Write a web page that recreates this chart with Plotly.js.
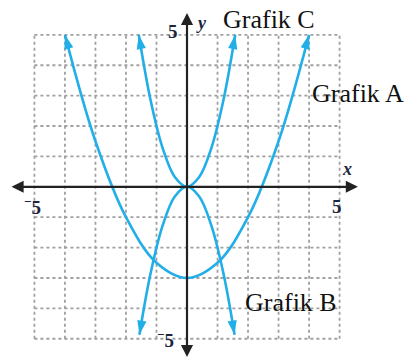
<!DOCTYPE html>
<html><head><meta charset="utf-8">
<script src="https://cdn.plot.ly/plotly-3.0.1.min.js"></script>
<style>html,body{margin:0;padding:0;background:#fff;}#c{width:406px;height:360px;}</style>
</head><body><div id="c"></div>
<script>
// Values
var gridTicks = [-5,-4,-3,-2,-1,0,1,2,3,4,5];
var grafikA_x = [-4,-3,-2,-1,0,1,2,3,4];
var grafikA_y = [5,1.5,-1,-2.5,-3,-2.5,-1,1.5,5];
var grafikB_x = [-1.56,-1.2,-0.8,-0.4,0,0.4,0.8,1.2,1.56];
var grafikB_y = [-4.87,-2.88,-1.28,-0.32,0,-0.32,-1.28,-2.88,-4.87];
var grafikC_x = [-1.58,-1.2,-0.8,-0.4,0,0.4,0.8,1.2,1.58];
var grafikC_y = [5,2.88,1.28,0.32,0,0.32,1.28,2.88,5];
var curveNames = ['Grafik A','Grafik B','Grafik C'];

var blue = '#22aee6';
var ink = '#1b2540';
var curves = [[grafikA_x,grafikA_y],[grafikB_x,grafikB_y],[grafikC_x,grafikC_y]];
var traces = [];
curves.forEach(function(c,i){
  var xs=c[0], ys=c[1], n=xs.length;
  traces.push({x:xs,y:ys,mode:'lines',type:'scatter',name:curveNames[i],
    line:{color:blue,width:2.6,shape:'spline'},hoverinfo:'skip'});
  function ang(a,b){return Math.atan2(xs[a]-xs[b], ys[a]-ys[b])*180/Math.PI;}
  traces.push({x:[xs[0],xs[n-1]],y:[ys[0],ys[n-1]],mode:'markers',type:'scatter',
    marker:{symbol:'arrow',size:15,color:blue,angle:[ang(0,1),ang(n-1,n-2)],line:{width:0}},
    hoverinfo:'skip'});
});

var shapes = [];
gridTicks.forEach(function(t){
  shapes.push({type:'line',xref:'x',yref:'y',x0:t,x1:t,y0:gridTicks[0],y1:gridTicks[gridTicks.length-1],
    line:{color:'#a0a0a0',width:1.8,dash:'dot'},layer:'below'});
  shapes.push({type:'line',xref:'x',yref:'y',y0:t,y1:t,x0:gridTicks[0],x1:gridTicks[gridTicks.length-1],
    line:{color:'#a0a0a0',width:1.8,dash:'dot'},layer:'below'});
});

var numFont = {family:'Liberation Serif',size:19,color:ink};
var varFont = {family:'Liberation Serif',size:18,color:ink};
var lblFont = {family:'Liberation Serif',size:26,color:'#111'};
var annotations = [
  // axes with arrows
  {xref:'x',yref:'y',axref:'x',ayref:'y',x:5.6,y:0,ax:-5.8,ay:0,text:'',showarrow:true,
   arrowhead:2,startarrowhead:2,arrowside:'end+start',arrowsize:1.1,arrowwidth:2.2,arrowcolor:'#222'},
  {xref:'x',yref:'y',axref:'x',ayref:'y',x:0,y:5.72,ax:0,ay:-5.65,text:'',showarrow:true,
   arrowhead:2,startarrowhead:2,arrowside:'end+start',arrowsize:1.1,arrowwidth:2.2,arrowcolor:'#222'},
  {xref:'x',yref:'y',x:-0.45,y:5.12,text:'<b>5</b>',showarrow:false,font:numFont},
  {xref:'x',yref:'y',x:-5.05,y:-0.62,text:'<b><sup>−</sup>5</b>',showarrow:false,font:numFont},
  {xref:'x',yref:'y',x:4.9,y:-0.66,text:'<b>5</b>',showarrow:false,font:numFont},
  {xref:'x',yref:'y',x:-0.72,y:-5.02,text:'<b><sup>−</sup>5</b>',showarrow:false,font:numFont},
  {xref:'x',yref:'y',x:0.48,y:5.38,text:'<b><i>y</i></b>',showarrow:false,font:varFont},
  {xref:'x',yref:'y',x:5.25,y:0.58,text:'<b><i>x</i></b>',showarrow:false,font:varFont},
  {xref:'x',yref:'y',x:2.69,y:5.5,text:curveNames[2],showarrow:false,font:lblFont},
  {xref:'x',yref:'y',x:5.6,y:3.08,text:curveNames[0],showarrow:false,font:lblFont},
  {xref:'x',yref:'y',x:3.4,y:-3.82,text:curveNames[1],showarrow:false,font:lblFont}
];

var ax = {showgrid:false,zeroline:false,showticklabels:false,showline:false,ticks:'',fixedrange:true};
var layout = {
  width:406,height:360,margin:{l:10,r:42,t:9,b:3},
  paper_bgcolor:'#fff',plot_bgcolor:'#fff',showlegend:false,
  xaxis:Object.assign({range:[-5.8,5.8]},ax),
  yaxis:Object.assign({range:[-5.6,5.85]},ax),
  shapes:shapes,annotations:annotations
};
Plotly.newPlot('c',traces,layout,{displayModeBar:false,staticPlot:true});
</script></body></html>
